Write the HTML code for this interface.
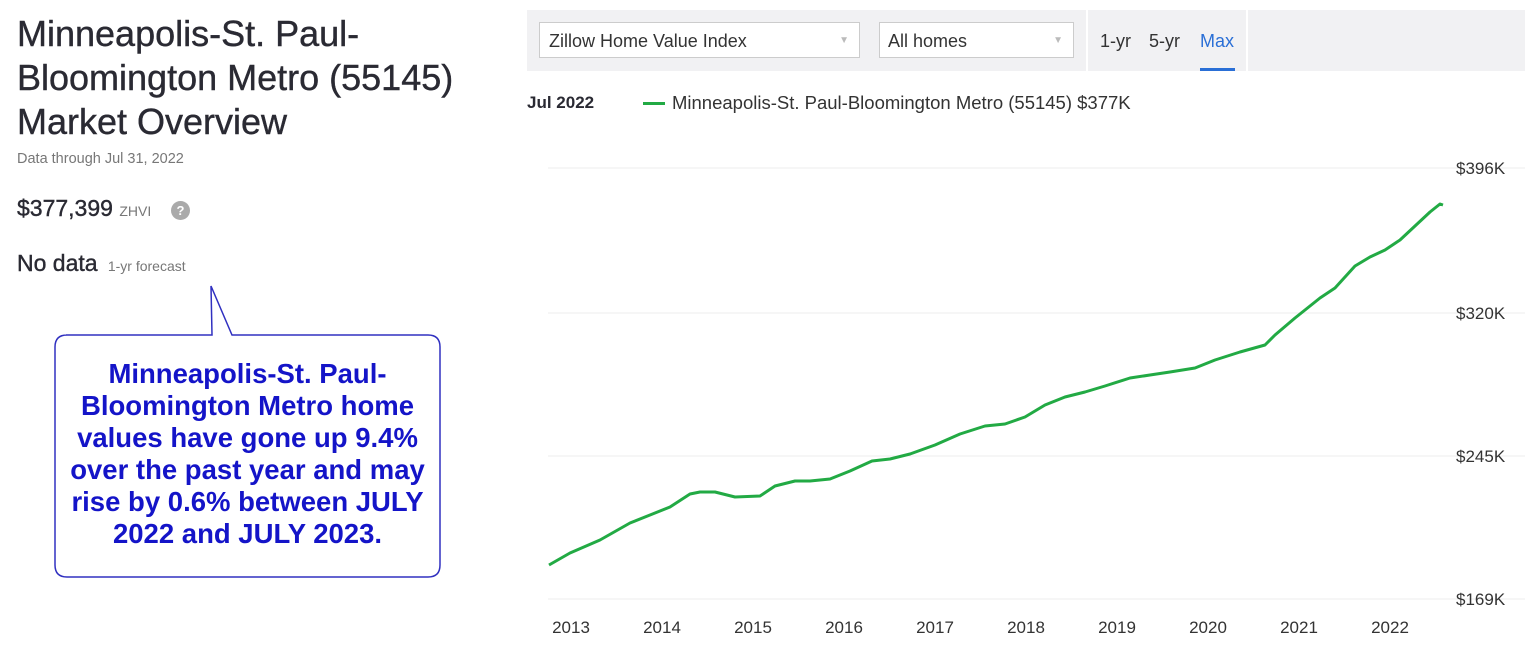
<!DOCTYPE html>
<html><head><meta charset="utf-8"><style>
body{margin:0;width:1536px;height:663px;background:#fff;position:relative;overflow:hidden;font-family:"Liberation Sans",sans-serif}
.a{position:absolute;white-space:nowrap}
</style></head><body>
<div class="a" style="left:17px;top:12px;font-size:36px;line-height:44px;color:#2a2a33;-webkit-text-stroke:0.4px #2a2a33">Minneapolis-St. Paul-<br>Bloomington Metro (55145)<br>Market Overview</div>
<div class="a" style="left:17px;top:151px;font-size:14.5px;color:#777">Data through Jul 31, 2022</div>
<div class="a" style="left:17px;top:195px;font-size:23px;color:#2a2a33;-webkit-text-stroke:0.4px #2a2a33">$377,399 <span style="font-size:14px;color:#777;-webkit-text-stroke:0">ZHVI</span></div>
<div class="a" style="left:171px;top:201px;width:19px;height:19px;border-radius:50%;background:#aaa;color:#fff;font-size:13px;text-align:center;line-height:19px;font-weight:bold">?</div>
<div class="a" style="left:17px;top:250px;font-size:23px;color:#2a2a33;-webkit-text-stroke:0.4px #2a2a33">No data <span style="font-size:14px;color:#777;-webkit-text-stroke:0">&nbsp;1-yr forecast</span></div>
<svg class="a" style="left:0;top:0" width="520" height="663">
<path d="M66 335 H212 L211 286 L232 335 H428 Q440 335 440 347 V565 Q440 577 428 577 H67 Q55 577 55 565 V347 Q55 335 67 335Z" fill="#fff" stroke="#3030c0" stroke-width="1.5"/>
</svg>
<div class="a" style="left:55px;top:358px;width:385px;text-align:center;font-size:27.5px;line-height:32px;font-weight:bold;color:#1414c8">Minneapolis-St. Paul-<br>Bloomington Metro home<br>values have gone up 9.4%<br>over the past year and may<br>rise by 0.6% between JULY<br>2022 and JULY 2023.</div>
<div class="a" style="left:527px;top:10px;width:998px;height:61px;background:#f1f1f3"></div>
<div class="a" style="left:1086px;top:10px;width:2px;height:61px;background:#fff"></div>
<div class="a" style="left:1246px;top:10px;width:2px;height:61px;background:#fff"></div>
<div class="a" style="left:539px;top:22px;width:321px;height:36px;background:#fff;border:1px solid #ccc;font-size:18px;line-height:36px;color:#333;box-sizing:border-box;padding-left:9px">Zillow Home Value Index<span style="position:absolute;right:10px;color:#bbb;font-size:10px">▼</span></div>
<div class="a" style="left:879px;top:22px;width:195px;height:36px;background:#fff;border:1px solid #ccc;font-size:18px;line-height:36px;color:#333;box-sizing:border-box;padding-left:8px">All homes<span style="position:absolute;right:10px;color:#bbb;font-size:10px">▼</span></div>
<div class="a" style="left:1100px;top:31px;font-size:18px;color:#333">1-yr</div>
<div class="a" style="left:1149px;top:31px;font-size:18px;color:#333">5-yr</div>
<div class="a" style="left:1200px;top:31px;font-size:18px;color:#2a6fd6">Max</div>
<div class="a" style="left:1200px;top:68px;width:35px;height:3px;background:#2a6fd6"></div>
<div class="a" style="left:527px;top:93px;font-size:17px;font-weight:bold;color:#2a2a33">Jul 2022</div>
<div class="a" style="left:643px;top:102px;width:22px;height:3px;background:#22aa44"></div>
<div class="a" style="left:672px;top:92px;font-size:18.5px;color:#333">Minneapolis-St. Paul-Bloomington Metro (55145) $377K</div>
<svg class="a" style="left:0;top:0" width="1536" height="663">
<g stroke="#eee" stroke-width="1"><line x1="548" y1="168" x2="1525" y2="168"/><line x1="548" y1="313" x2="1525" y2="313"/><line x1="548" y1="456" x2="1525" y2="456"/><line x1="548" y1="599" x2="1525" y2="599"/></g>
<g font-size="17" fill="#333" font-family="Liberation Sans,sans-serif">
<text x="1456" y="174">$396K</text><text x="1456" y="319">$320K</text><text x="1456" y="462">$245K</text><text x="1456" y="605">$169K</text>
<g text-anchor="middle"><text x="571" y="633">2013</text><text x="662" y="633">2014</text><text x="753" y="633">2015</text><text x="844" y="633">2016</text><text x="935" y="633">2017</text><text x="1026" y="633">2018</text><text x="1117" y="633">2019</text><text x="1208" y="633">2020</text><text x="1299" y="633">2021</text><text x="1390" y="633">2022</text></g></g>
<polyline fill="none" stroke="#22aa44" stroke-width="3" stroke-linejoin="round" points="549,565 570,553 600,540 630,523 650,515 670,507 690,494 700,492 715,492 735,497 760,496 775,486 795,481 810,481 830,479 850,471 872,461 890,459 910,454 935,445 960,434 985,426 1005,424 1025,417 1045,405 1065,397 1085,392 1105,386 1130,378 1150,375 1170,372 1195,368 1215,360 1240,352 1265,345 1275,335 1295,318 1320,298 1335,288 1355,266 1370,257 1385,250 1400,240 1415,226 1430,212 1440,204 1443,205"/>
</svg>
</body></html>
